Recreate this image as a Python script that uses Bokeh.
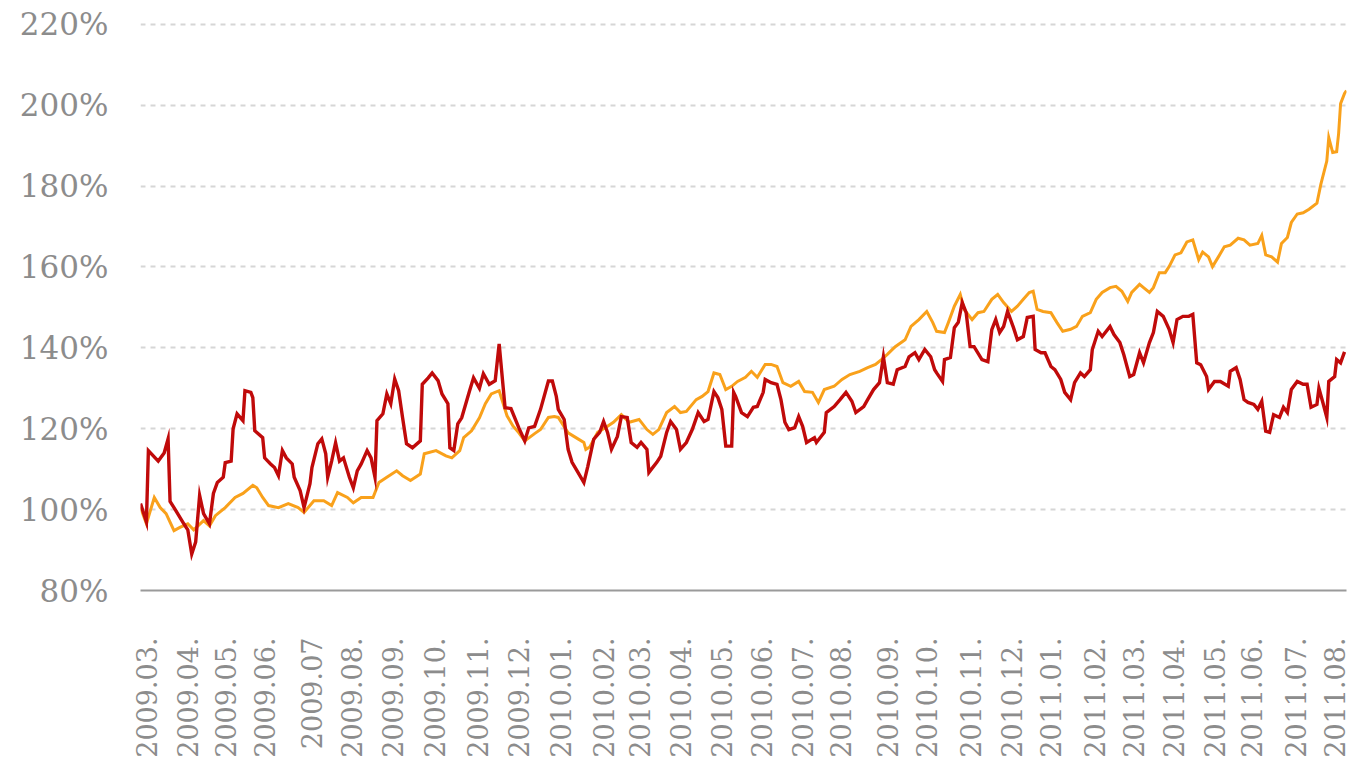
from bokeh.plotting import figure
from bokeh.models import Range1d, FixedTicker
from bokeh.embed import file_html
from bokeh.resources import INLINE
import math

# trading-day index (0 = start of March 2009) and value in %
orange_day = [0, 3, 7, 10, 13, 17, 20, 24, 27, 32, 35, 38, 43, 48, 52, 57, 59, 62, 65, 70,
              75, 80, 83, 88, 93, 97, 100, 105, 108, 112, 118, 121, 125, 130, 133, 137, 142, 144, 150, 155,
              158, 162, 164, 168, 172, 175, 178, 182, 186, 189, 192, 195, 200, 203, 207, 210, 212, 217, 222, 225,
              226, 228, 232, 237, 240, 244, 248, 253, 257, 260, 263, 267, 271, 274, 277, 282, 285, 288, 291, 294,
              297, 300, 303, 307, 310, 313, 317, 320, 323, 326, 330, 334, 337, 341, 344, 347, 352, 356, 360, 365,
              369, 373, 376, 379, 383, 388, 391, 395, 399, 402, 404, 408, 410, 413, 416, 418, 422, 425, 428, 432,
              435, 438, 442, 445, 448, 451, 453, 455, 458, 462, 465, 468, 472, 475, 478, 482, 485, 488, 492, 495,
              498, 501, 503, 507, 509, 512, 514, 517, 520, 522, 525, 528, 531, 534, 537, 539, 542, 544, 547, 550,
              553, 557, 560, 563, 567, 569, 571, 574, 577, 579, 582, 584, 587, 590, 593, 597, 599, 602, 603, 605,
              607, 608, 609, 611, 612]
orange_val = [100.5, 96.5, 103, 100.5, 99, 94.8, 95.6, 96.5, 95, 97.3, 96, 98.5, 100.5, 103, 104, 106, 105.4, 103, 101, 100.5,
              101.5, 100.5, 99.3, 102.2, 102.2, 101, 104.2, 103, 101.7, 103, 103, 106.7, 108, 109.6, 108.4, 107.2, 108.8, 113.8, 114.6, 113.3,
              112.8, 114.6, 117.8, 119.5, 122.7, 126.2, 128.6, 129.4, 123.2, 120.7, 119, 117, 118.8, 119.8, 122.8, 123, 122.8, 119, 117.5, 116.6,
              114.9, 115.5, 119.1, 120.6, 121.6, 123.5, 121.6, 122.3, 119.8, 118.6, 119.8, 124, 125.5, 124, 124.3, 127.2, 128, 129.2, 133.8, 133.4,
              129.7, 130.5, 131.7, 132.7, 134.2, 132.7, 135.9, 135.9, 135.4, 131.4, 130.5, 131.7, 129.2, 129, 126.5, 129.7, 130.5, 132.2, 133.4, 134.2,
              135.1, 135.9, 137.1, 138.4, 140.3, 142, 145.3, 147, 149, 146.3, 144.1, 143.8, 146.3, 150.3, 153.2, 149.5, 147, 148.7, 149, 152,
              153.2, 151.2, 149, 150.3, 152, 153.7, 154, 149.5, 149, 148.7, 146.3, 144.1, 144.6, 145.3, 147.8, 148.7, 152, 153.7, 154.9, 155.2,
              154, 151.5, 153.7, 155.7, 154.9, 153.7, 154.9, 158.6, 158.6, 160.1, 163, 163.5, 166.2, 166.7, 161.8, 163.7, 162.5, 160.1, 162.5, 165,
              165.4, 167.1, 166.7, 165.4, 165.8, 167.8, 163, 162.5, 161.2, 165.8, 167.3, 171, 173.1, 173.4, 174.3, 175.8, 180.5, 186.2, 192, 188.3,
              188.5, 193, 200.4, 202.9, 203.6]

red_day = [0, 3, 4, 9, 12, 14, 15, 17, 22, 24, 26, 28, 30, 32, 35, 37, 39, 42, 43, 46,
           47, 49, 52, 53, 56, 57, 58, 62, 63, 66, 68, 70, 72, 74, 77, 78, 81, 83, 86, 87,
           90, 92, 94, 95, 97, 99, 101, 103, 106, 108, 110, 112, 115, 117, 119, 120, 123, 125, 127, 129,
           131, 133, 135, 138, 142, 143, 146, 148, 151, 153, 156, 157, 159, 161, 163, 167, 169, 172, 174, 177,
           180, 182, 185, 188, 192, 195, 197, 200, 203, 207, 209, 211, 212, 215, 217, 219, 222, 225, 227, 230,
           233, 235, 237, 239, 242, 244, 247, 249, 252, 254, 257, 258, 262, 264, 267, 269, 272, 274, 277, 280,
           283, 286, 288, 291, 293, 295, 297, 300, 301, 302, 305, 308, 311, 313, 316, 317, 320, 323, 325, 327,
           329, 332, 334, 336, 338, 342, 343, 347, 348, 352, 355, 358, 361, 363, 367, 369, 372, 375, 377, 379,
           382, 384, 388, 390, 393, 395, 398, 401, 403, 404, 407, 408, 411, 413, 415, 417, 419, 421, 423, 427,
           430, 432, 434, 436, 438, 440, 443, 445, 448, 450, 453, 454, 457, 459, 462, 464, 467, 469, 472, 474,
           477, 479, 482, 483, 486, 488, 492, 494, 497, 499, 502, 504, 507, 509, 512, 514, 516, 519, 522, 524,
           526, 529, 532, 534, 536, 538, 541, 542, 545, 548, 552, 553, 556, 558, 560, 562, 565, 567, 569, 571,
           573, 575, 578, 580, 582, 584, 587, 590, 592, 594, 597, 598, 600, 602, 603, 606, 607, 609, 611]
red_val = [101.5, 97, 114.6, 112, 114, 117.5, 102, 100.5, 96.5, 95, 89, 92, 103.5, 99, 96.5, 104, 106.7, 108, 111.6, 112,
           120, 123.7, 122, 129.4, 129, 127.7, 119.5, 117.8, 112.8, 111.3, 110.4, 108.4, 114.6, 112.8, 111.3, 108, 104.7, 100.5, 106.4, 110.4,
           116.3, 117.5, 113.8, 108, 112, 116.5, 112, 112.8, 108, 105.4, 109.6, 111.3, 114.6, 112.8, 108, 122, 123.7, 128.6, 126.2, 132.3,
           129.4, 122.7, 116.3, 115.3, 117, 131, 132.6, 133.8, 131.9, 128.6, 126.2, 115.3, 114.6, 121.2, 122.7, 129.4, 132.6, 130, 133.6, 131,
           131.9, 141, 125.2, 125, 120.2, 117, 120.2, 120.6, 124.8, 131.8, 131.8, 128, 124.8, 122.3, 114.9, 111.7, 109.2, 106.7, 110.7, 117.4,
           119.1, 121.8, 119.1, 114.9, 118.1, 123, 122.8, 116.6, 115.4, 116.6, 114.9, 109.2, 111.7, 113.2, 119.1, 121.8, 119.8, 114.9, 116.6, 119.8,
           124, 121.8, 122.3, 129.2, 127.7, 124.8, 115.7, 115.7, 129, 128, 124, 123, 125.3, 125.5, 129, 132.2, 131.4, 131, 127.2, 121.6,
           119.8, 120.3, 123, 120.6, 116.6, 117.8, 116.6, 119.1, 124, 125.5, 127.2, 129, 126.8, 124, 125.5, 127.2, 129.7, 131.4, 137.8, 131.4,
           131, 134.6, 135.4, 137.8, 138.8, 137.1, 139.6, 137.8, 134.6, 133.8, 131.7, 137.1, 137.6, 145, 146.3, 151.2, 148.7, 140.3, 140.3, 137.1,
           136.6, 144.5, 147, 143.8, 145.3, 149, 145, 142, 142.8, 147.5, 147.8, 139.6, 138.8, 138.8, 135.4, 134.6, 132.2, 129, 127.2, 131.4,
           133.8, 132.9, 134.6, 139.6, 144.1, 142.8, 145.3, 143.3, 141.3, 138.3, 132.9, 133.4, 138.8, 136.3, 141.3, 143.8, 149, 147.8, 144.6, 141.3,
           147, 147.8, 147.8, 148.3, 136.3, 135.8, 132.9, 129.7, 131.7, 131.7, 130.5, 134.2, 135.1, 132.2, 127.2, 126.5, 126, 124.8, 126.8, 119.4,
           119.1, 123.5, 122.8, 125.3, 124, 129.7, 131.7, 131, 131, 125.3, 126, 130, 126.5, 122.8, 131.7, 132.9, 137.1, 136.3, 139]

tick_days = [3, 24, 43, 63, 87, 107, 128, 149, 171, 192, 213, 235, 253, 274, 295,
             315, 336, 355, 379, 399, 421, 442, 462, 484, 504, 524, 545, 564, 586, 606]
tick_labels = ["2009.03.", "2009.04.", "2009.05.", "2009.06.", "2009.07", "2009.08.", "2009.09.",
               "2009.10.", "2009.11.", "2009.12.", "2010.01.", "2010.02.", "2010.03.", "2010.04.",
               "2010.05.", "2010.06.", "2010.07.", "2010.08.", "2010.09.", "2010.10.", "2010.11.",
               "2010.12.", "2011.01.", "2011.02.", "2011.03.", "2011.04.", "2011.05.", "2011.06.",
               "2011.07.", "2011.08."]
y_ticks = [80, 100, 120, 140, 160, 180, 200, 220]
y_labels = ["80%", "100%", "120%", "140%", "160%", "180%", "200%", "220%"]

FONT = "DejaVu Serif"
GREY = "#8c8c8c"

p = figure(width=1351, height=762, output_backend="svg", toolbar_location=None,
           x_range=Range1d(0, 612), y_range=Range1d(80, 225.9),
           min_border_left=140, min_border_right=5, min_border_top=0, min_border_bottom=172)
p.outline_line_color = None
p.background_fill_color = "white"
p.border_fill_color = "white"

p.line(orange_day, orange_val, line_color="#F9A11B", line_width=3, line_join="miter")
p.line(red_day, red_val, line_color="#C00A0A", line_width=3.4, line_join="miter")

p.xgrid.grid_line_color = None
p.ygrid.grid_line_color = "#d6d6d6"
p.ygrid.grid_line_width = 2
p.ygrid.grid_line_dash = "5 5"

ya = p.yaxis[0]
ya.ticker = FixedTicker(ticks=y_ticks)
ya.major_label_overrides = {t: l for t, l in zip(y_ticks, y_labels)}
ya.axis_line_color = None
ya.major_tick_line_color = None
ya.minor_tick_line_color = None
ya.major_tick_out = 0
ya.major_label_standoff = 32
ya.major_label_text_font = FONT
ya.major_label_text_font_size = "31px"
ya.major_label_text_color = GREY

xa = p.xaxis[0]
xa.ticker = FixedTicker(ticks=tick_days)
xa.major_label_overrides = {t: l for t, l in zip(tick_days, tick_labels)}
xa.axis_line_color = "#9a9a9a"
xa.axis_line_width = 2
xa.major_tick_line_color = None
xa.minor_tick_line_color = None
xa.major_tick_out = 0
xa.major_label_standoff = 47
xa.major_label_orientation = math.pi / 2
xa.major_label_text_font = FONT
xa.major_label_text_font_size = "27px"
xa.major_label_text_color = GREY

open("out.html", "w").write(file_html(p, INLINE))
